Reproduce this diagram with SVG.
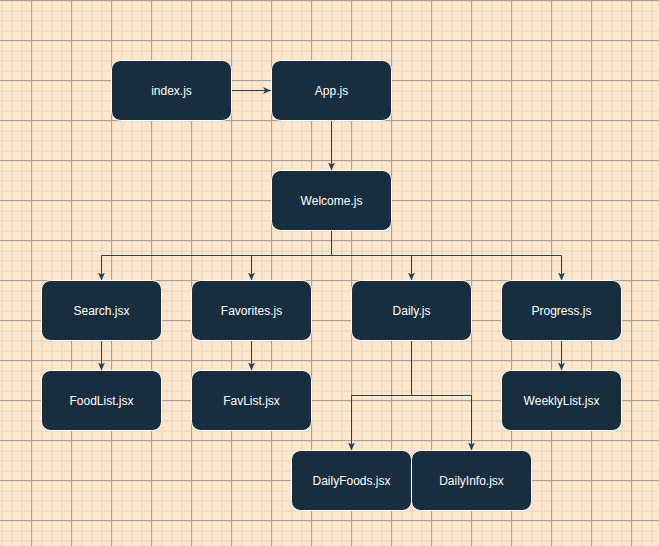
<svg xmlns="http://www.w3.org/2000/svg" width="659" height="546" viewBox="0 0 659 546">
<defs>
<pattern id="minor" patternUnits="userSpaceOnUse" x="1" y="0" width="10" height="10">
<path d="M1,0 V10 M0,1 H10" stroke="#F0DDC7" stroke-width="2" fill="none"/>
</pattern>
<pattern id="major" patternUnits="userSpaceOnUse" x="-9" y="0" width="40" height="40">
<path d="M0.5,0 V40 M0,0.5 H40" stroke="#ABA196" stroke-width="1" fill="none"/>
</pattern>
<marker id="arr" viewBox="0 0 8 7" refX="8" refY="3.5" markerWidth="8" markerHeight="7" markerUnits="userSpaceOnUse" orient="auto">
<path d="M0,0 L8,3.5 L0,7 L2,3.5 Z" fill="#23445D"/>
</marker>
</defs>
<style>
.n rect{fill:#182E3E;stroke:#FFFFFF;stroke-width:1}
.n text{fill:#FFFFFF;font-family:"Liberation Sans",Arial,sans-serif;font-size:12px;text-anchor:middle}
.e path{fill:none;stroke:#23445D;stroke-width:1}
</style>
<rect x="0" y="0" width="659" height="546" fill="#FFE6CC"/>
<rect x="0" y="0" width="659" height="546" fill="url(#minor)"/>
<rect x="0" y="0" width="659" height="546" fill="url(#major)"/>
<g id="edges" class="e">
<path d="M231.5,90.5 H271" marker-end="url(#arr)"/>
<path d="M331.5,120.5 V170.5" marker-end="url(#arr)"/>
<path d="M331.5,230.5 V255.5 H101.5 V280.5" marker-end="url(#arr)"/>
<path d="M331.5,255.5 H251.5 V280.5" marker-end="url(#arr)"/>
<path d="M331.5,255.5 H411.5 V280.5" marker-end="url(#arr)"/>
<path d="M331.5,255.5 H561.5 V280.5" marker-end="url(#arr)"/>
<path d="M101.5,340.5 V370.5" marker-end="url(#arr)"/>
<path d="M251.5,340.5 V370.5" marker-end="url(#arr)"/>
<path d="M561.5,340.5 V370.5" marker-end="url(#arr)"/>
<path d="M411.5,340.5 V395.5 H351.5 V450.5" marker-end="url(#arr)"/>
<path d="M411.5,395.5 H471.5 V450.5" marker-end="url(#arr)"/>
</g>
<g id="index" class="n"><rect x="111.5" y="60.5" width="120" height="60" rx="9"/><text x="171.5" y="94.5">index.js</text></g>
<g id="app" class="n"><rect x="271.5" y="60.5" width="120" height="60" rx="9"/><text x="331.5" y="94.5">App.js</text></g>
<g id="welcome" class="n"><rect x="271.5" y="170.5" width="120" height="60" rx="9"/><text x="331.5" y="204.5">Welcome.js</text></g>
<g id="search" class="n"><rect x="41.5" y="280.5" width="120" height="60" rx="9"/><text x="101.5" y="314.5">Search.jsx</text></g>
<g id="favorites" class="n"><rect x="191.5" y="280.5" width="120" height="60" rx="9"/><text x="251.5" y="314.5">Favorites.js</text></g>
<g id="daily" class="n"><rect x="351.5" y="280.5" width="120" height="60" rx="9"/><text x="411.5" y="314.5">Daily.js</text></g>
<g id="progress" class="n"><rect x="501.5" y="280.5" width="120" height="60" rx="9"/><text x="561.5" y="314.5">Progress.js</text></g>
<g id="foodlist" class="n"><rect x="41.5" y="370.5" width="120" height="60" rx="9"/><text x="101.5" y="404.5">FoodList.jsx</text></g>
<g id="favlist" class="n"><rect x="191.5" y="370.5" width="120" height="60" rx="9"/><text x="251.5" y="404.5">FavList.jsx</text></g>
<g id="weeklylist" class="n"><rect x="501.5" y="370.5" width="120" height="60" rx="9"/><text x="561.5" y="404.5">WeeklyList.jsx</text></g>
<g id="dailyfoods" class="n"><rect x="291.5" y="450.5" width="120" height="60" rx="9"/><text x="351.5" y="484.5">DailyFoods.jsx</text></g>
<g id="dailyinfo" class="n"><rect x="411.5" y="450.5" width="120" height="60" rx="9"/><text x="471.5" y="484.5">DailyInfo.jsx</text></g>
</svg>
